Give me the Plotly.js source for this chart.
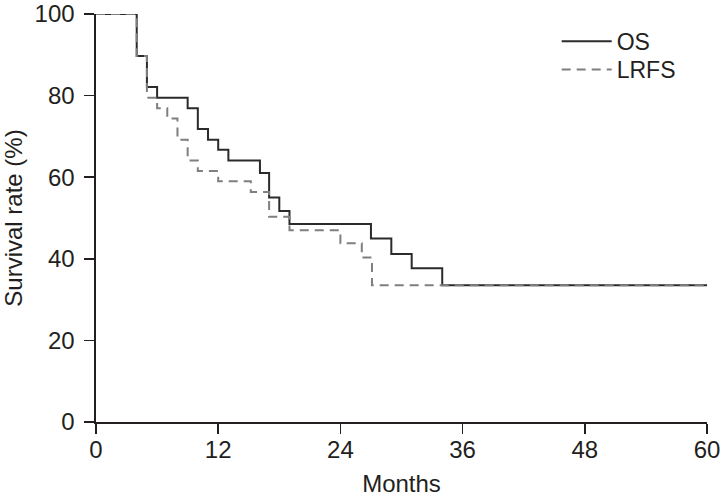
<!DOCTYPE html>
<html>
<head>
<meta charset="utf-8">
<script src="https://cdn.plot.ly/plotly-3.0.1.min.js"></script>
<style>html,body{margin:0;padding:0;background:#fff;}#chart{width:722px;height:497px;}</style>
</head>
<body>
<div id="chart"></div>
<script>
// Kaplan-Meier step data (months, %)
const osMonths   = [0, 4, 5, 6, 9, 10, 11, 12, 13, 16.1, 17, 18, 19, 27, 29, 31, 34, 60];
const osRate     = [100, 89.7, 82.1, 79.5, 76.9, 71.8, 69.2, 66.7, 64.1, 61.0, 55.0, 51.7, 48.5, 45.0, 41.2, 37.7, 33.5, 33.5];
const lrfsMonths = [0, 4, 5, 6, 7, 8, 9, 10, 12, 15.2, 17, 19, 24, 26.1, 27.1, 60];
const lrfsRate   = [100, 89.7, 79.5, 76.9, 74.4, 69.2, 64.1, 61.5, 59.0, 56.4, 50.3, 47.0, 43.8, 40.3, 33.5, 33.5];
const xTicks = [0, 12, 24, 36, 48, 60];
const yTicks = [0, 20, 40, 60, 80, 100];

const fam = 'Liberation Sans, Arial, Helvetica, sans-serif';
const ink = '#231f20';

const traces = [
  {x: osMonths, y: osRate, name: 'OS', mode: 'lines', legend: 'legend',
   line: {shape: 'hv', color: '#2b2b2b', width: 2}},
  {x: lrfsMonths, y: lrfsRate, name: 'LRFS', mode: 'lines', legend: 'legend2',
   line: {shape: 'hv', color: '#7f7f7f', width: 2, dash: '9px,6px'}}
];

const legFont = {family: fam, size: 23, color: ink};
const layout = {
  width: 722, height: 497,
  margin: {l: 96, r: 15, t: 14, b: 75},
  paper_bgcolor: '#fff', plot_bgcolor: '#fff',
  font: {family: fam, size: 24, color: ink},
  showlegend: true,
  legend:  {x: 0.754, y: 0.933, xanchor: 'left', yanchor: 'middle', itemwidth: 50,
            font: legFont, bgcolor: 'rgba(0,0,0,0)'},
  legend2: {x: 0.754, y: 0.864, xanchor: 'left', yanchor: 'middle', itemwidth: 50,
            font: legFont, bgcolor: 'rgba(0,0,0,0)'},
  xaxis: {
    range: [0, 60], tickvals: xTicks, ticktext: xTicks.map(String),
    showgrid: false, zeroline: false, showline: true, linecolor: ink, linewidth: 1.6,
    ticks: 'outside', ticklen: 10, tickcolor: ink, tickwidth: 1.6, ticklabelstandoff: -4,
    ticklabeloverflow: 'allow',
    tickfont: {family: fam, size: 24, color: ink},
    title: {text: 'Months', font: {family: fam, size: 24, color: ink}, standoff: 16},
    fixedrange: true
  },
  yaxis: {
    range: [0, 100], tickvals: yTicks, ticktext: yTicks.map(String),
    showgrid: false, zeroline: false, showline: true, linecolor: ink, linewidth: 1.6,
    ticks: 'outside', ticklen: 10, tickcolor: ink, tickwidth: 1.6, ticklabelstandoff: 5,
    ticklabeloverflow: 'allow',
    tickfont: {family: fam, size: 24, color: ink},
    title: {text: 'Survival rate (%)', font: {family: fam, size: 24, color: ink}, standoff: 12},
    fixedrange: true
  }
};

Plotly.newPlot('chart', traces, layout, {staticPlot: true, displayModeBar: false});
</script>
</body>
</html>
